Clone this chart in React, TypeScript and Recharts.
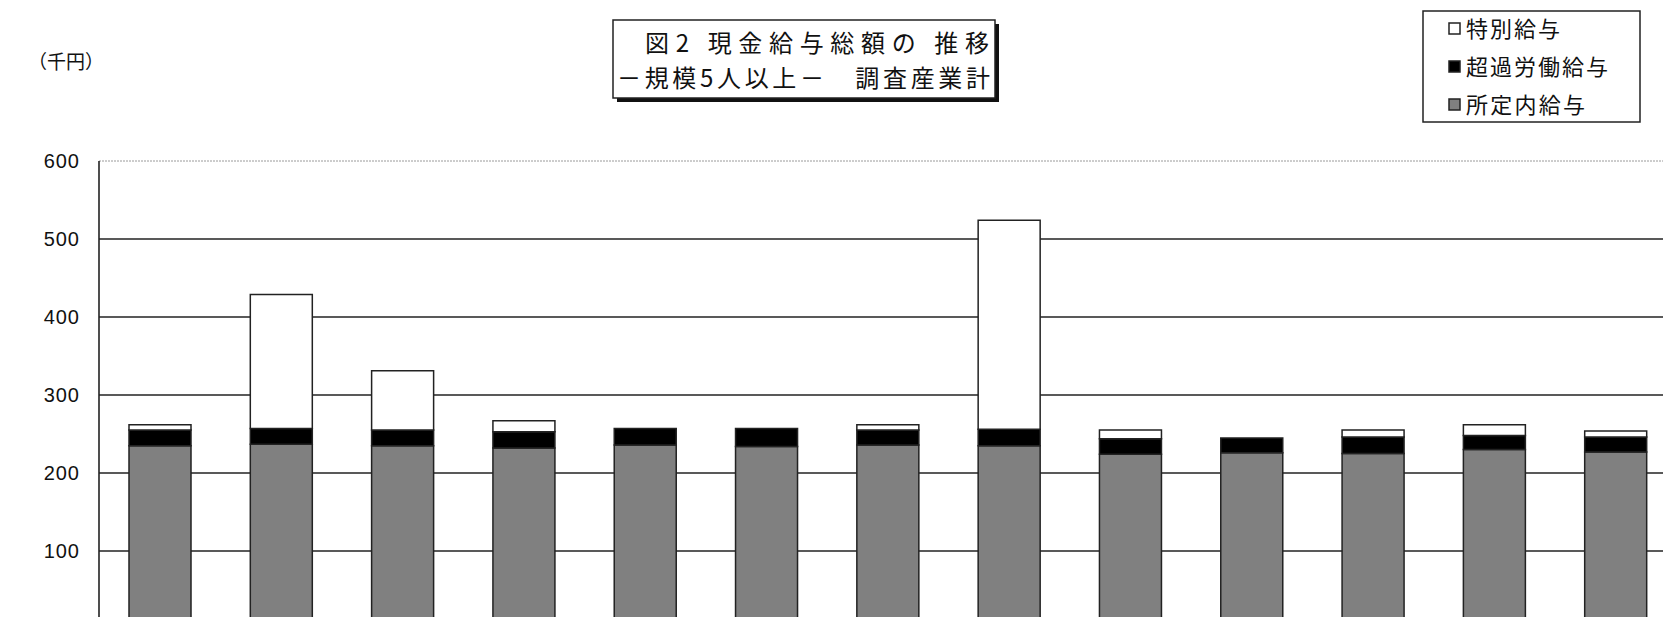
import React from "react"
import { BarChart, Bar, XAxis, YAxis, CartesianGrid } from "recharts"

// 13か月分（所定内・超過労働・特別給与、単位：千円）
const months = ["5月", "6月", "7月", "8月", "9月", "10月", "11月", "12月", "1月", "2月", "3月", "4月", "5月"]
const scheduled = [235, 237, 235, 232, 236, 234, 236, 235, 224, 226, 225, 230, 227]
const overtime = [20, 20, 20, 21, 21, 23, 19, 21, 20, 19, 21, 18, 19]
const special = [7, 172, 76, 14, 0, 0, 7, 268, 11, 0, 9, 14, 8]
// 0 の目盛は画面外なので表示しない
const yTicks = [100, 200, 300, 400, 500, 600]

const legendItems = [
  { name: "特別給与", fill: "#ffffff", len: 94 },
  { name: "超過労働給与", fill: "#000000", len: 142 },
  { name: "所定内給与", fill: "#808080", len: 119 },
]

const data = months.map((m, i) => ({
  month: m,
  scheduled: scheduled[i],
  overtime: overtime[i],
  special: special[i],
}))

const jpFont = "'Noto Sans CJK JP', 'Noto Sans', sans-serif"

// 一番上の目盛線（600）だけ灰色の点線
const gridLine = (props: any) => {
  const isTop = props.y !== undefined && props.y1 <= props.y + 0.5
  return (
    <line
      key={props.key}
      x1={props.x1}
      y1={props.y1}
      x2={props.x2}
      y2={props.y2}
      stroke={isTop ? "#9a9a9a" : "#222"}
      strokeWidth={isTop ? 1 : 1.6}
      strokeDasharray={isTop ? "2 1" : undefined}
    />
  )
}

export default function App() {
  return (
    <div
      style={{
        position: "absolute",
        left: 0,
        top: 0,
        width: 1663,
        height: 617,
        overflow: "hidden",
        background: "#fff",
      }}
    >
      <div style={{ position: "absolute", left: 0, top: 0 }}>
        <BarChart
          width={1700}
          height={700}
          data={data}
          margin={{ top: 161, right: 24, left: 9, bottom: 31 }}
        >
          <CartesianGrid vertical={false} horizontal={gridLine} />
          <XAxis
            dataKey="month"
            height={40}
            axisLine={{ stroke: "#222", strokeWidth: 1.5 }}
            tickLine={false}
            tick={false}
          />
          <YAxis
            width={90}
            domain={[0, 600]}
            ticks={yTicks}
            interval={0}
            axisLine={{ stroke: "#222", strokeWidth: 1.6 }}
            tickLine={false}
            tickSize={0}
            tickMargin={19}
            tick={{ fontSize: 20, fill: "#111", fontFamily: "'Liberation Sans', Arial, sans-serif", letterSpacing: 1 }}
          />
          <Bar dataKey="scheduled" stackId="a" fill="#808080" stroke="#222" strokeWidth={1.5} barSize={62} isAnimationActive={false} />
          <Bar dataKey="overtime" stackId="a" fill="#000000" stroke="#222" strokeWidth={1.5} barSize={62} isAnimationActive={false} />
          <Bar dataKey="special" stackId="a" fill="#ffffff" stroke="#222" strokeWidth={1.5} barSize={62} isAnimationActive={false} />
        </BarChart>
      </div>

      <svg
        width={1663}
        height={617}
        style={{ position: "absolute", left: 0, top: 0, pointerEvents: "none" }}
        fontFamily={jpFont}
        fill="#111"
      >
        {/* 単位 */}
        <text x={28} y={69} fontSize={19}>（千円）</text>

        {/* タイトル */}
        <rect x={617} y={24} width={382} height={78} fill="#111" />
        <rect x={613} y={20} width={382} height={78} fill="#fff" stroke="#222" strokeWidth={1.5} />
        <text x={645} y={52} fontSize={24} textLength={344} lengthAdjust="spacing">図2 現金給与総額の 推移</text>
        <text x={617} y={87} fontSize={24} textLength={373} lengthAdjust="spacing">－規模5人以上－　調査産業計</text>

        {/* 凡例 */}
        <rect x={1423} y={11} width={217} height={111} fill="#fff" stroke="#222" strokeWidth={1.5} />
        {legendItems.map((item, i) => (
          <g key={item.name}>
            <rect x={1449} y={23 + i * 38} width={11} height={11} fill={item.fill} stroke="#222" strokeWidth={1.5} />
            <text x={1466} y={37 + i * 38} fontSize={22} textLength={item.len} lengthAdjust="spacing">
              {item.name}
            </text>
          </g>
        ))}
      </svg>
    </div>
  )
}
